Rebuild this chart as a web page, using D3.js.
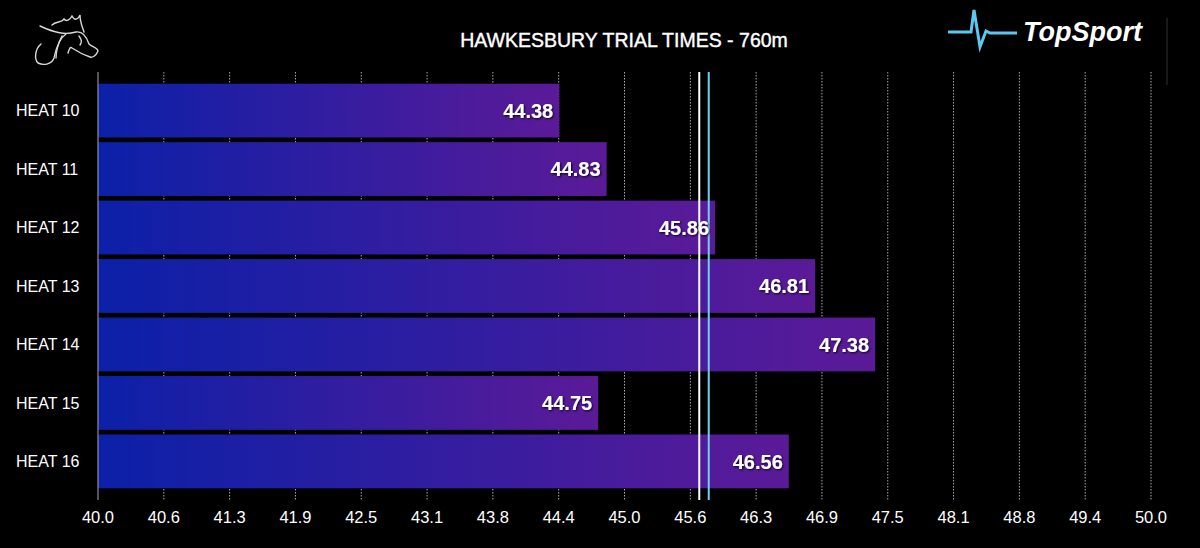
<!DOCTYPE html>
<html>
<head>
<meta charset="utf-8">
<script src="https://cdn.jsdelivr.net/npm/d3@7"></script>
<style>
  body { margin: 0; background: #000; }
  text { font-family: "Liberation Sans", Arial, sans-serif; }
</style>
</head>
<body>
<script>
// data
var heats = ["HEAT 10", "HEAT 11", "HEAT 12", "HEAT 13", "HEAT 14", "HEAT 15", "HEAT 16"]
var times = [44.38, 44.83, 45.86, 46.81, 47.38, 44.75, 46.56]
var tickValues = [40.0, 40.625, 41.25, 41.875, 42.5, 43.125, 43.75, 44.375, 45.0,
   45.625, 46.25, 46.875, 47.5, 48.125, 48.75, 49.375, 50.0]
var refLines = [
   { value: 45.71, color: "#ffffff" },   // white marker
   { value: 45.80, color: "#6fd0f0" }    // blue marker (average)
]

var width = 1200, height = 548
var svg = d3.select("body").append("svg")
   .attr("width", width)
   .attr("height", height)

svg.append("rect")
   .attr("width", width)
   .attr("height", height)
   .style("fill", "#000")

var x = d3.scaleLinear().domain([40, 50]).range([98, 1151])
var y = d3.scaleBand().domain(heats).range([72, 500])
   .paddingInner(0.08).paddingOuter(0.2)

var defs = svg.append("defs")
var grad = defs.append("linearGradient")
   .attr("id", "barGrad")
   .attr("x1", "0%").attr("y1", "0%")
   .attr("x2", "100%").attr("y2", "0%")
grad.append("stop").attr("offset", "0%").attr("stop-color", "#0b20a8")
grad.append("stop").attr("offset", "100%").attr("stop-color", "#5b1a98")

var shadow = defs.append("filter").attr("id", "txtShadow")
   .attr("x", "-20%").attr("y", "-30%").attr("width", "140%").attr("height", "160%")
shadow.append("feDropShadow")
   .attr("dx", 1).attr("dy", 1).attr("stdDeviation", 1.2)
   .attr("flood-color", "#000").attr("flood-opacity", 0.9)

// dotted grid lines
svg.append("g").selectAll("line")
   .data(tickValues.slice(1))
   .enter().append("line")
   .attr("x1", function (d) { return x(d) })
   .attr("x2", function (d) { return x(d) })
   .attr("y1", 72)
   .attr("y2", 500)
   .style("stroke", "#aaaaaa")
   .style("stroke-width", 1)
   .style("stroke-dasharray", "1.5,1.5")

// bars
svg.append("g").selectAll("rect")
   .data(times)
   .enter().append("rect")
   .attr("x", x(40))
   .attr("y", function (d, i) { return y(heats[i]) })
   .attr("width", function (d) { return x(d) - x(40) })
   .attr("height", y.bandwidth())
   .style("fill", "url(#barGrad)")

// reference lines
svg.append("g").selectAll("line")
   .data(refLines)
   .enter().append("line")
   .attr("x1", function (d) { return x(d.value) })
   .attr("x2", function (d) { return x(d.value) })
   .attr("y1", 72)
   .attr("y2", 500)
   .style("stroke", function (d) { return d.color })
   .style("stroke-width", 2)

// value labels
svg.append("g").selectAll("text")
   .data(times)
   .enter().append("text")
   .attr("x", function (d) { return x(d) - 6 })
   .attr("y", function (d, i) { return y(heats[i]) + y.bandwidth() / 2 })
   .attr("dy", "0.36em")
   .attr("text-anchor", "end")
   .attr("filter", "url(#txtShadow)")
   .style("fill", "#fff")
   .style("font-size", "20px")
   .style("font-weight", "bold")
   .text(function (d) { return d.toFixed(2) })

// left axis line
svg.append("line")
   .attr("x1", x(40)).attr("x2", x(40))
   .attr("y1", 72).attr("y2", 500)
   .style("stroke", "#aaa")
   .style("stroke-width", 1)

// category labels
svg.append("g").selectAll("text")
   .data(heats)
   .enter().append("text")
   .attr("x", 16)
   .attr("y", function (d) { return y(d) + y.bandwidth() / 2 })
   .attr("dy", "0.36em")
   .style("fill", "#fff")
   .style("font-size", "16px")
   .text(function (d) { return d })

// x tick labels
svg.append("g").selectAll("text")
   .data(tickValues)
   .enter().append("text")
   .attr("x", function (d) { return x(d) })
   .attr("y", 523)
   .attr("text-anchor", "middle")
   .style("fill", "#fff")
   .style("font-size", "16.5px")
   .text(function (d) { return (Math.round(d * 10) / 10).toFixed(1) })

// title
svg.append("text")
   .attr("x", 624)
   .attr("y", 47)
   .attr("text-anchor", "middle")
   .style("fill", "#fff")
   .style("font-size", "19.5px")
   .style("stroke", "#fff")
   .style("stroke-width", 0.4)
   .text("HAWKESBURY TRIAL TIMES - 760m")

// TopSport logo
svg.append("path")
   .attr("d", "M948,32 L971,32 L974,10 L980,47 L986,31 L990,33 L1017,33")
   .style("fill", "none")
   .style("stroke", "#5cc8f0")
   .style("stroke-width", 3)
   .style("stroke-linejoin", "miter")
svg.append("text")
   .attr("x", 1023)
   .attr("y", 41)
   .style("fill", "#fff")
   .style("font-size", "27px")
   .style("font-weight", "bold")
   .style("font-style", "italic")
   .text("TopSport")
svg.append("line")
   .attr("x1", 1167).attr("x2", 1167)
   .attr("y1", 18).attr("y2", 85)
   .style("stroke", "#333")

// horse head sketch, top left
var horse = svg.append("g")
   .style("fill", "none")
   .style("stroke", "#d8d8d8")
   .style("stroke-width", 1.4)
   .style("stroke-linecap", "round")
horse.append("path").attr("d", "M40,26 C55,33 65,35 76,32 C83,31 87,38 89,44 C92,47 98,48 98,51 C96,56 92,58 90,57 C84,55 78,52 72,48 C70,46 69,50 68,53")
horse.append("path").attr("d", "M52,25 C56,21 62,23 64,19 C66,22 70,20 72,16 C74,20 77,21 80,15 C80,22 82,26 84,32")
horse.append("path").attr("d", "M66,34 C60,38 56,48 54,58 C52,64 44,66 38,63 C34,59 35,49 41,44")
horse.append("path").attr("d", "M62,36 C58,44 56,52 56,58")
horse.append("path").attr("d", "M79,36 C82,40 82,42 80,45")
</script>
</body>
</html>
